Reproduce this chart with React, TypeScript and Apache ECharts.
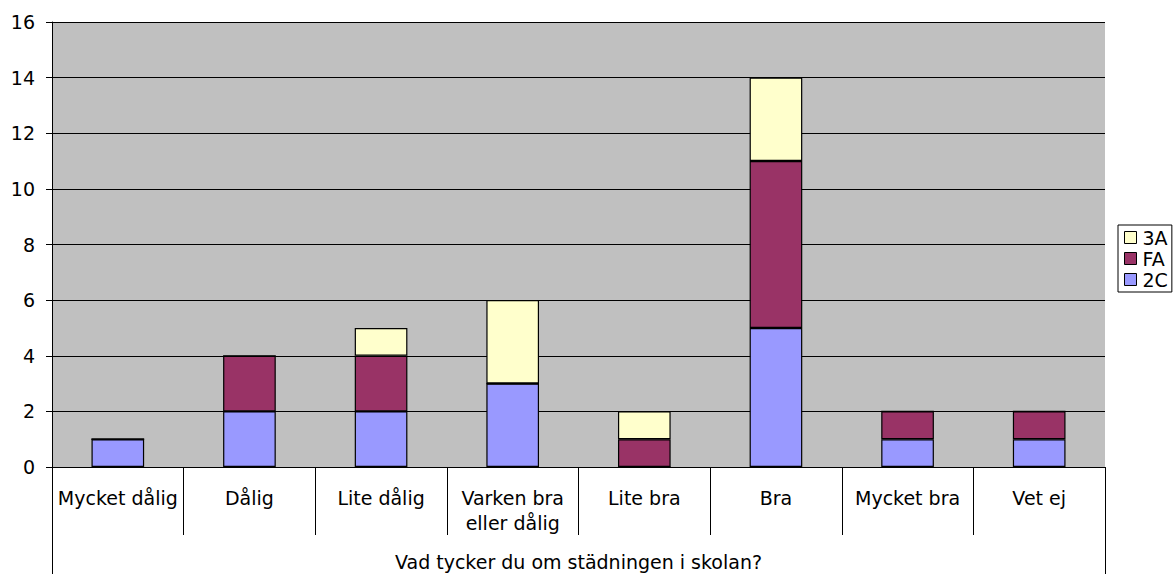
import React, { useEffect, useRef } from "react";
import * as echarts from "echarts";

const categories = ["Mycket dålig", "Dålig", "Lite dålig", "Varken bra\neller dålig", "Lite bra", "Bra", "Mycket bra", "Vet ej"];
const axisTitle = ["Vad tycker du om städningen i skolan?"];
const s2C = [1, 2, 2, 3, 0, 5, 1, 1];
const sFA = [0, 2, 2, 0, 1, 6, 1, 1];
const s3A = [0, 0, 1, 3, 1, 3, 0, 0];

const FONT = 'Verdana, "DejaVu Sans", sans-serif';
const FS = 19;

export default function App() {
  const ref = useRef<HTMLDivElement>(null);
  useEffect(() => {
    const chart = echarts.init(ref.current!, null, { renderer: "svg" });
    const mk = (name: string, data: number[], color: string) => ({
      name,
      type: "bar",
      stack: "total",
      data,
      barWidth: "40%",
      itemStyle: { color, borderColor: "#000", borderWidth: 1.2 },
    });
    chart.setOption({
      animation: false,
      textStyle: { fontFamily: FONT },
      grid: { left: 52, right: 70, top: 22, bottom: 107, show: true, backgroundColor: "#C0C0C0", borderWidth: 0 },
      legend: {
        orient: "vertical",
        left: 1118,
        top: 225,
        data: ["3A", "FA", "2C"],
        icon: "rect",
        itemWidth: 12,
        itemHeight: 12,
        itemGap: 2,
        padding: [3, 4, 3, 6],
        borderColor: "#000",
        borderWidth: 1,
        textStyle: { fontSize: FS, color: "#000", fontFamily: FONT, padding: [0, 0, 0, 1] },
        itemStyle: { borderColor: "#000", borderWidth: 1 },
      },
      xAxis: [
        {
          type: "category",
          data: categories,
          position: "bottom",
          axisLine: { show: true, lineStyle: { color: "#000", width: 1 } },
          axisTick: { show: true, length: 68, lineStyle: { color: "#000" } },
          axisLabel: { color: "#000", fontSize: FS, fontFamily: FONT, margin: 18, lineHeight: 25, interval: 0 },
        },
        {
          type: "category",
          data: axisTitle,
          position: "bottom",
          axisLine: { show: false },
          axisTick: { show: true, length: 107, lineStyle: { color: "#000" } },
          axisLabel: { color: "#000", fontSize: FS, fontFamily: FONT, margin: 85 },
        },
      ],
      yAxis: {
        type: "value",
        min: 0,
        max: 16,
        interval: 2,
        axisLine: { show: true, lineStyle: { color: "#000" } },
        axisTick: { show: true, length: 6, lineStyle: { color: "#000" } },
        axisLabel: { color: "#000", fontSize: FS, fontFamily: FONT, margin: 17 },
        splitLine: { show: true, lineStyle: { color: "#000", width: 1 } },
      },
      series: [mk("2C", s2C, "#9999FF"), mk("FA", sFA, "#993366"), mk("3A", s3A, "#FFFFCC")],
    });
    return () => chart.dispose();
  }, []);
  return <div ref={ref} style={{ position: "fixed", left: 0, top: 0, width: 1175, height: 574, background: "#fff" }} />;
}
